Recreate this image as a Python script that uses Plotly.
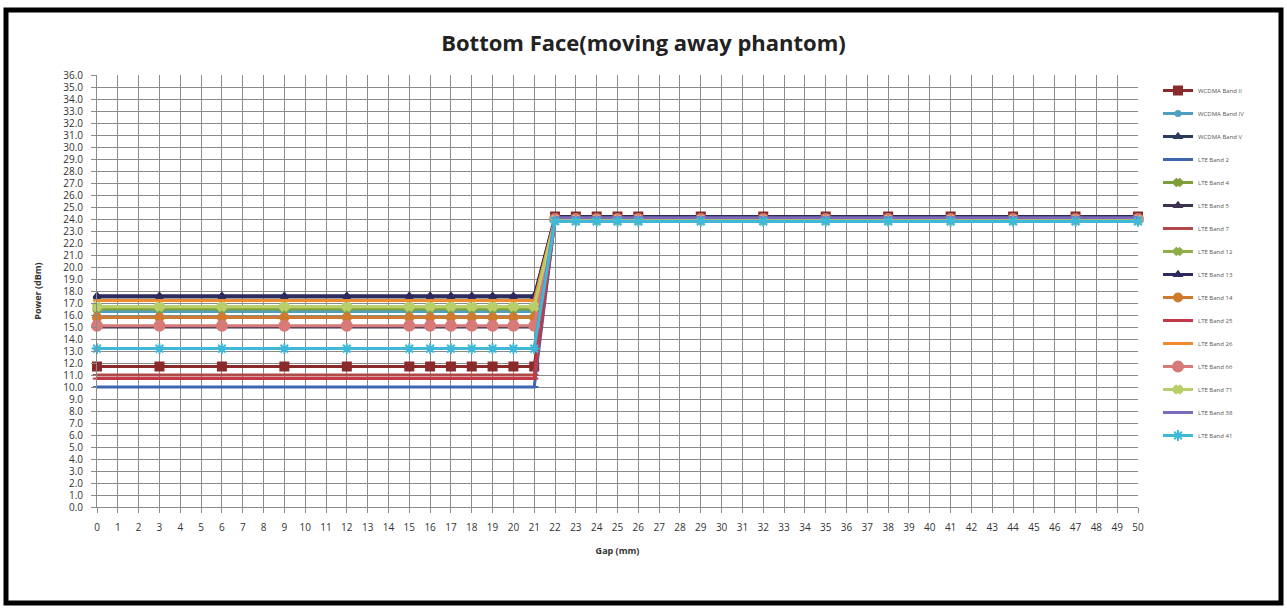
import plotly.graph_objects as go

gap_mm = [0, 3, 6, 9, 12, 15, 16, 17, 18, 19, 20, 21, 22, 23, 24, 25, 26, 29, 32, 35, 38, 41, 44, 47, 50]
n_near = 12  # points at 0..21 mm
n_far = len(gap_mm) - n_near

bands = ["WCDMA Band II", "WCDMA Band IV", "WCDMA Band V", "LTE Band 2", "LTE Band 4",
         "LTE Band 5", "LTE Band 7", "LTE Band 12", "LTE Band 13", "LTE Band 14",
         "LTE Band 25", "LTE Band 26", "LTE Band 66", "LTE Band 71", "LTE Band 38", "LTE Band 41"]
near_power = [11.7, 16.3, 17.5, 10.0, 16.5, 15.0, 11.0, 16.6, 17.6, 15.8,
              10.7, 17.2, 15.1, 16.7, 13.2, 13.2]
far_power = [24.2, 24.0, 24.1, 24.0, 23.9, 24.1, 24.1, 23.9, 24.2, 24.0,
             24.0, 24.0, 24.0, 23.9, 24.1, 23.8]

colors = ["#8B2A2A", "#4F9FC0", "#2B3B5C", "#3F67B0", "#7E9E3A", "#3C3350", "#B04A48", "#8FAE4A",
          "#2E2A5E", "#D07A30", "#C23A48", "#F08A30", "#D77A78", "#B8CF6A", "#7A6AB8", "#40B8D8"]
symbols = ["square", "circle", "triangle-up", "line-ew", "x", "triangle-up", "line-ew", "x",
           "triangle-up", "circle", "line-ew", "line-ew", "circle", "x", "line-ew", "asterisk"]
sizes = [8, 5, 6, 6, 6, 6, 6, 6, 6, 8, 6, 6, 10, 7, 6, 9]

fig = go.Figure()
for i, name in enumerate(bands):
    y = [near_power[i]] * n_near + [far_power[i]] * n_far
    fig.add_trace(go.Scatter(
        x=gap_mm, y=y, name=name, mode="lines+markers",
        line=dict(color=colors[i], width=3),
        marker=dict(symbol=symbols[i], size=sizes[i], color=colors[i],
                    line=dict(color=colors[i], width=2)),
        cliponaxis=False, legendgroup=name,
    ))

L, R, T, B = 97, 149, 75, 101
W, H = 1287, 608
pw = W - L - R
ph = H - T - B

def px_x(p):
    return (p - L) / pw

def px_y(p):
    return (H - B - p) / ph

fig.update_layout(
    width=W, height=H,
    margin=dict(l=L, r=R, t=T, b=B),
    paper_bgcolor="white", plot_bgcolor="white",
    title=dict(text="<b>Bottom Face(moving away phantom)</b>", x=0.5, xanchor="center",
               y=1 - 43 / H, yanchor="middle",
               font=dict(family="Open Sans, Arial", size=22, color="#222222")),
    xaxis=dict(range=[0, 50], dtick=1, tick0=0, showgrid=True, gridcolor="#8a8a8a", gridwidth=1,
               showline=True, linecolor="#8a8a8a", ticks="outside", ticklen=5, tickcolor="#8a8a8a",
               ticklabelstandoff=6,
               zeroline=False, tickfont=dict(family="Open Sans, Arial", size=10, color="#333333"),
               title=dict(text="<b>Gap (mm)</b>", font=dict(family="Open Sans, Arial", size=9, color="#333333"),
                          standoff=14)),
    yaxis=dict(range=[0, 36], dtick=1, tick0=0, tickformat=".1f", showgrid=True, gridcolor="#8a8a8a",
               gridwidth=1, showline=True, linecolor="#8a8a8a", ticks="outside", ticklen=5,
               tickcolor="#8a8a8a", zeroline=False, ticklabelstandoff=6,
               tickfont=dict(family="Open Sans, Arial", size=10, color="#333333"),
               title=dict(text="<b>Power (dBm)</b>", font=dict(family="Open Sans, Arial", size=9, color="#333333"),
                          standoff=20)),
    legend=dict(x=px_x(1158), y=px_y(76), xanchor="left", yanchor="top",
                font=dict(family="Open Sans, Arial", size=6, color="#555555"),
                traceorder="grouped", tracegroupgap=4, itemwidth=30, maxheight=560,
                bgcolor="rgba(0,0,0,0)"),
    shapes=[dict(type="rect", xref="paper", yref="paper",
                 x0=px_x(6), x1=px_x(1281), y0=px_y(603), y1=px_y(10),
                 line=dict(color="black", width=5), fillcolor="rgba(0,0,0,0)", layer="below")],
)

fig.write_html("out.html", config={"displayModeBar": False},
               post_script="document.body.style.margin='0';document.body.style.overflow='hidden';")
